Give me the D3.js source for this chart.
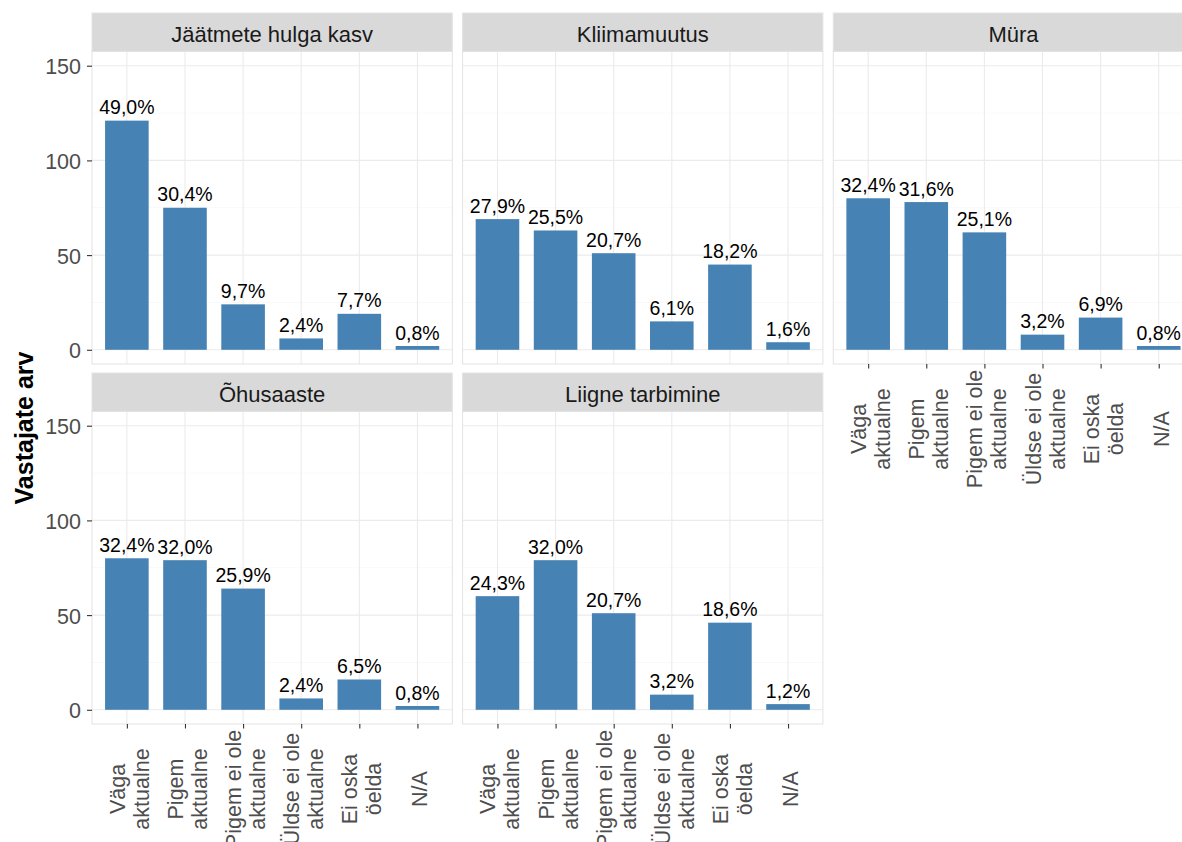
<!DOCTYPE html>
<html><head><meta charset="utf-8">
<script src="https://cdn.jsdelivr.net/npm/d3@7"></script>
<style>body{margin:0;background:#fff} svg{display:block;font-family:"Liberation Sans",Arial,sans-serif}</style>
</head><body><svg id="c" width="1182" height="842"></svg>
<script>
// ---- data ----
const categories = ["Väga aktualne","Pigem aktualne","Pigem ei ole aktualne","Üldse ei ole aktualne","Ei oska öelda","N/A"];
const categoryLines = [["Väga","aktualne"],["Pigem","aktualne"],["Pigem ei ole","aktualne"],["Üldse ei ole","aktualne"],["Ei oska","öelda"],["N/A"]];
const facets = ["Jäätmete hulga kasv","Kliimamuutus","Müra","Õhusaaste","Liigne tarbimine"];
const countsJaatmed   = [121, 75, 24, 6, 19, 2];
const countsKliima    = [69, 63, 51, 15, 45, 4];
const countsMura      = [80, 78, 62, 8, 17, 2];
const countsOhusaaste = [80, 79, 64, 6, 16, 2];
const countsTarbimine = [60, 79, 51, 8, 46, 3];
const labelsJaatmed   = ["49,0%","30,4%","9,7%","2,4%","7,7%","0,8%"];
const labelsKliima    = ["27,9%","25,5%","20,7%","6,1%","18,2%","1,6%"];
const labelsMura      = ["32,4%","31,6%","25,1%","3,2%","6,9%","0,8%"];
const labelsOhusaaste = ["32,4%","32,0%","25,9%","2,4%","6,5%","0,8%"];
const labelsTarbimine = ["24,3%","32,0%","20,7%","3,2%","18,6%","1,2%"];
const yTicks = [0, 50, 100, 150];
const yMinorTicks = [25, 75, 125];
const yTitle = "Vastajate arv";

const facetCounts = [countsJaatmed, countsKliima, countsMura, countsOhusaaste, countsTarbimine];
const facetLabels = [labelsJaatmed, labelsKliima, labelsMura, labelsOhusaaste, labelsTarbimine];

// ---- layout ----
const colLeft = [92, 462.6, 833.3];
const panelW = 360.3;
const stripTop = [13, 373];
const stripH = 38.5;
const panelH = 312.5;
const ncol = 3;

const svg = d3.select("#c");
const FONT_AXIS = 21.5, FONT_STRIP = 22, FONT_LABEL = 19.5;

facets.forEach((name, i) => {
  const col = i % ncol, row = Math.floor(i / ncol);
  const left = colLeft[col], right = left + panelW;
  const sTop = stripTop[row];
  const pTop = sTop + stripH, pBot = pTop + panelH;
  const x = d3.scalePoint().domain(categories).range([left, right]).padding(0.6);
  const y = d3.scaleLinear().domain([-7.5, 157.5]).range([pBot, pTop]);
  const bw = x.step() * 0.75;
  const g = svg.append("g");

  // panel background
  g.append("rect").attr("x", left).attr("y", pTop).attr("width", panelW).attr("height", panelH).attr("fill", "#fff");
  // minor grid
  g.selectAll(".ymin").data(yMinorTicks).join("line")
    .attr("x1", left).attr("x2", right).attr("y1", d => y(d)).attr("y2", d => y(d))
    .attr("stroke", "#f5f5f5").attr("stroke-width", 0.6);
  // major grid
  g.selectAll(".ymaj").data(yTicks).join("line")
    .attr("x1", left).attr("x2", right).attr("y1", d => y(d)).attr("y2", d => y(d))
    .attr("stroke", "#ebebeb").attr("stroke-width", 1.1);
  g.selectAll(".xmaj").data(categories).join("line")
    .attr("x1", d => x(d)).attr("x2", d => x(d)).attr("y1", pTop).attr("y2", pBot)
    .attr("stroke", "#ebebeb").attr("stroke-width", 1.1);

  // bars
  const counts = facetCounts[i], labels = facetLabels[i];
  g.selectAll(".bar").data(categories).join("rect")
    .attr("x", d => x(d) - bw / 2)
    .attr("y", (d, k) => y(counts[k]))
    .attr("width", bw)
    .attr("height", (d, k) => y(0) - y(counts[k]))
    .attr("fill", "#4682B4");
  // bar labels
  g.selectAll(".lbl").data(categories).join("text")
    .attr("x", d => x(d))
    .attr("y", (d, k) => y(counts[k]) - 6.5)
    .attr("text-anchor", "middle")
    .attr("font-size", FONT_LABEL)
    .attr("fill", "#000")
    .text((d, k) => labels[k]);

  // panel border
  g.append("rect").attr("x", left).attr("y", pTop).attr("width", panelW).attr("height", panelH)
    .attr("fill", "none").attr("stroke", "#e3e3e3").attr("stroke-width", 1);
  // strip
  g.append("rect").attr("x", left).attr("y", sTop).attr("width", panelW).attr("height", stripH)
    .attr("fill", "#d9d9d9").attr("stroke", "#e3e3e3").attr("stroke-width", 1);
  g.append("text").attr("x", (left + right) / 2).attr("y", sTop + 29)
    .attr("text-anchor", "middle").attr("font-size", FONT_STRIP).attr("fill", "#1a1a1a").text(name);

  // y axis on first column
  if (col === 0) {
    const ax = svg.append("g").attr("transform", `translate(${left},0)`)
      .call(d3.axisLeft(y).tickValues(yTicks).tickSize(5).tickPadding(6));
    ax.select(".domain").remove();
    ax.selectAll(".tick line").attr("stroke", "#333333").attr("stroke-width", 1.1);
    ax.selectAll(".tick text").attr("font-size", FONT_AXIS).attr("fill", "#4d4d4d")
      .attr("font-family", "Liberation Sans, Arial, sans-serif").attr("dy", "0.38em");
  }
  // x axis where no panel below
  const below = i + ncol;
  if (below >= facets.length) {
    const ax = svg.append("g").attr("transform", `translate(0,${pBot})`)
      .call(d3.axisBottom(x).tickSize(4.5).tickFormat(""));
    ax.select(".domain").remove();
    ax.selectAll(".tick line").attr("stroke", "#333333").attr("stroke-width", 1.1);
    const cy = pBot + 65;
    categories.forEach((c, k) => {
      const lines = categoryLines[k];
      const n = lines.length;
      lines.forEach((ln, j) => {
        const bx = x(c) + 10 + (j - (n - 1) / 2) * 24;
        svg.append("text")
          .attr("transform", `translate(${bx},${cy}) rotate(-90)`)
          .attr("text-anchor", "middle")
          .attr("font-size", FONT_AXIS)
          .attr("fill", "#4d4d4d")
          .text(ln);
      });
    });
  }
});

// y title
svg.append("text")
  .attr("transform", "translate(32.5,428) rotate(-90)")
  .attr("text-anchor", "middle")
  .attr("font-size", 25)
  .attr("font-weight", "bold")
  .attr("fill", "#000")
  .text(yTitle);
</script>
</body></html>
